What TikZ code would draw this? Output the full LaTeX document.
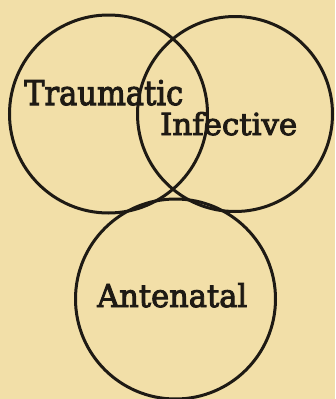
\documentclass[tikz,border=0pt]{standalone}
\usepackage{graphicx}
\usepackage{fontspec}
\newfontfamily\labelfont[FakeBold=3]{DejaVu Serif}
\definecolor{paper}{HTML}{F2DFA8}
\definecolor{ink}{HTML}{1E1A14}
\tikzset{
  ring/.style={draw=ink, line width=3pt},
  word/.style={anchor=base west, inner sep=0pt, text=ink, font=\labelfont}
}
\begin{document}
\begin{tikzpicture}[x=1pt,y=-1pt]
\useasboundingbox (0,0) rectangle (335,399);
\fill[paper] (0,0) rectangle (335,399);
\draw[ring] (108.5,114) circle[radius=99];
\draw[ring] (235,114) circle[radius=97.5];
\draw[ring] (175.5,299) circle[radius=100];
\node[word] (trau) at (24,105) {\resizebox{159pt}{25pt}{Traumatic}};
\node[word] (infe) at (160,135) {\resizebox{137pt}{23pt}{Infective}};
\node[word] (ante) at (97,307) {\resizebox{150pt}{24pt}{Antenatal}};
\end{tikzpicture}
\end{document}
